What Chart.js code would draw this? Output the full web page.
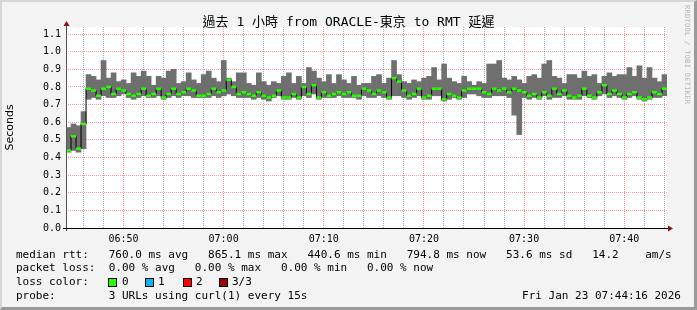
<!DOCTYPE html>
<html>
<head>
<meta charset="utf-8">
<script src="https://cdn.jsdelivr.net/npm/chart.js@4"></script>
<style>
  html, body { margin: 0; padding: 0; background: #f3f3f3; }
  #wrap { position: relative; width: 697px; height: 310px; overflow: hidden; background: #f3f3f3; }
  #wrap canvas { position: absolute; left: 0; top: 0; }
  .frame { position: absolute; left: 0; top: 0; width: 697px; height: 310px; box-sizing: border-box;
           border-top: 2px solid #d6d6d6; border-left: 2px solid #d6d6d6;
           border-right: 3px solid #9a9a9a; border-bottom: 3px solid #9a9a9a; pointer-events: none; }
  .txt { position: absolute; white-space: pre; font-family: "DejaVu Sans Mono", monospace; font-size: 11px;
         line-height: 14px; color: #000; }
  .title { left: 0; width: 697px; top: 13px; text-align: center; font-size: 13px; line-height: 17px;
           font-family: "DejaVu Sans Mono", "Noto Sans CJK TC", monospace; }
  .box { position: absolute; width: 7px; height: 7px; border: 1px solid #000; top: 278px; }
  .mark { position: absolute; right: 6px; top: 5px; writing-mode: vertical-rl; font-family: "DejaVu Sans Mono", monospace;
          font-size: 7px; color: #b5b5b5; letter-spacing: 0.3px; }
</style>
</head>
<body>
<div id="wrap">
  <canvas id="chart" width="697" height="310"></canvas>
  <div class="txt title">過去 1 小時 from ORACLE-東京 to RMT 延遲</div>
  <div class="mark">RRDTOOL / TOBI OETIKER</div>
  <div class="txt" style="left:16px; top:248px">median rtt:   760.0 ms avg   865.1 ms max   440.6 ms min   794.8 ms now   53.6 ms sd   14.2    am/s</div>
  <div class="txt" style="left:16px; top:261px">packet loss:  0.00 % avg   0.00 % max   0.00 % min   0.00 % now</div>
  <div class="txt" style="left:16px; top:275px">loss color:</div>
  <div class="box" style="left:108px; background:#26ff00"></div>
  <div class="txt" style="left:122px; top:275px">0</div>
  <div class="box" style="left:145px; background:#00b8ff"></div>
  <div class="txt" style="left:158px; top:275px">1</div>
  <div class="box" style="left:183px; background:#ff0000"></div>
  <div class="txt" style="left:196px; top:275px">2</div>
  <div class="box" style="left:219px; background:#a00000"></div>
  <div class="txt" style="left:232px; top:275px">3/3</div>
  <div class="txt" style="left:16px; top:289px">probe:        3 URLs using curl(1) every 15s</div>
  <div class="txt" style="right:16px; top:289px">Fri Jan 23 07:44:16 2026</div>
  <div class="frame"></div>
</div>
<script>
// time window, seconds of the day: 06:44:16 .. 07:44:16
const startTime = 6 * 3600 + 44 * 60 + 16;
const endTime = startTime + 3600;
const stepSec = 30;
const majorTickSec = 600;  // labelled every 10 min
const minorTickSec = 120;  // grey grid every 2 min

// median rtt (s)
const median = [
  0.44, 0.52, 0.45, 0.59, 0.79, 0.78, 0.75, 0.79, 0.80, 0.76,
  0.79, 0.78, 0.76, 0.75, 0.76, 0.79, 0.75, 0.76, 0.79, 0.74,
  0.76, 0.79, 0.76, 0.77, 0.79, 0.78, 0.75, 0.75, 0.76, 0.79,
  0.77, 0.78, 0.84, 0.80, 0.76, 0.77, 0.76, 0.75, 0.77, 0.75,
  0.74, 0.75, 0.78, 0.74, 0.74, 0.76, 0.74, 0.80, 0.76, 0.81,
  0.74, 0.77, 0.75, 0.76, 0.77, 0.76, 0.77, 0.75, 0.75, 0.79,
  0.78, 0.76, 0.78, 0.77, 0.74, 0.85, 0.83, 0.78, 0.75, 0.76,
  0.79, 0.74, 0.75, 0.79, 0.79, 0.73, 0.76, 0.75, 0.74, 0.78,
  0.79, 0.79, 0.79, 0.77, 0.76, 0.79, 0.78, 0.79, 0.77, 0.79,
  0.78, 0.77, 0.75, 0.76, 0.74, 0.77, 0.75, 0.79, 0.76, 0.78,
  0.75, 0.74, 0.75, 0.79, 0.75, 0.74, 0.77, 0.81, 0.76, 0.78,
  0.76, 0.74, 0.76, 0.77, 0.74, 0.73, 0.74, 0.77, 0.76, 0.79
];
// lowest ping of each step (bottom of the smoke)
const smokeLow = [
  0.43, 0.44, 0.43, 0.45, 0.73, 0.74, 0.73, 0.75, 0.74, 0.74,
  0.75, 0.76, 0.74, 0.73, 0.74, 0.75, 0.74, 0.74, 0.75, 0.73,
  0.74, 0.75, 0.74, 0.75, 0.75, 0.74, 0.74, 0.74, 0.74, 0.75,
  0.74, 0.75, 0.76, 0.75, 0.74, 0.74, 0.74, 0.73, 0.74, 0.73,
  0.72, 0.74, 0.75, 0.73, 0.73, 0.74, 0.73, 0.75, 0.74, 0.76,
  0.73, 0.74, 0.74, 0.74, 0.75, 0.74, 0.74, 0.74, 0.73, 0.75,
  0.74, 0.74, 0.75, 0.74, 0.73, 0.75, 0.75, 0.74, 0.73, 0.74,
  0.75, 0.73, 0.73, 0.75, 0.75, 0.72, 0.73, 0.74, 0.73, 0.74,
  0.76, 0.76, 0.75, 0.74, 0.74, 0.75, 0.75, 0.75, 0.74, 0.64,
  0.53, 0.74, 0.73, 0.74, 0.73, 0.75, 0.73, 0.74, 0.74, 0.75,
  0.73, 0.73, 0.73, 0.75, 0.74, 0.73, 0.75, 0.76, 0.74, 0.75,
  0.74, 0.73, 0.74, 0.75, 0.73, 0.72, 0.73, 0.74, 0.74, 0.75
];
// highest ping of each step (top of the smoke)
const smokeHigh = [
  0.57, 0.59, 0.58, 0.66, 0.87, 0.86, 0.84, 0.95, 0.85, 0.88,
  0.83, 0.84, 0.82, 0.88, 0.86, 0.89, 0.86, 0.81, 0.86, 0.85,
  0.89, 0.90, 0.82, 0.83, 0.88, 0.84, 0.82, 0.87, 0.89, 0.85,
  0.83, 0.95, 0.85, 0.83, 0.88, 0.88, 0.82, 0.81, 0.88, 0.83,
  0.81, 0.83, 0.82, 0.86, 0.88, 0.82, 0.86, 0.82, 0.91, 0.89,
  0.85, 0.83, 0.87, 0.82, 0.87, 0.84, 0.82, 0.86, 0.81, 0.82,
  0.82, 0.86, 0.87, 0.82, 0.85, 0.95, 0.87, 0.83, 0.82, 0.84,
  0.83, 0.85, 0.86, 0.91, 0.84, 0.93, 0.85, 0.83, 0.82, 0.86,
  0.83, 0.81, 0.83, 0.82, 0.93, 0.93, 0.95, 0.85, 0.84, 0.86,
  0.84, 0.82, 0.86, 0.87, 0.85, 0.93, 0.95, 0.86, 0.85, 0.82,
  0.87, 0.87, 0.85, 0.89, 0.86, 0.87, 0.82, 0.86, 0.88, 0.86,
  0.87, 0.87, 0.91, 0.86, 0.92, 0.85, 0.91, 0.85, 0.83, 0.87
];

const times = median.map((v, i) => startTime + stepSec / 2 + i * stepSec);

const monoFont = { family: 'DejaVu Sans Mono', size: 10 };
const majorGrid = 'rgba(255, 60, 60, 0.55)';
const minorGrid = 'rgba(120, 120, 120, 0.6)';

const hhmm = function (v) {
    const h = Math.floor(v / 3600);
    const m = Math.floor((v % 3600) / 60);
    return String(h).padStart(2, '0') + ':' + String(m).padStart(2, '0');
};

const isMajor = (v) => v % majorTickSec === 0;

// labelled ticks on round clock times, not counted from the window start
const clockTicks = function (scale) {
    const ticks = [];
    for (let v = Math.ceil(scale.min / majorTickSec) * majorTickSec; v <= scale.max; v += majorTickSec) {
        ticks.push({ value: v });
    }
    scale.ticks = ticks;
};

// grey dotted lines every 2 min between the red 10 min lines
const minorGridLines = {
    id: 'minorGridLines',
    beforeDatasetsDraw(chart) {
        const { ctx, chartArea } = chart;
        const xs = chart.scales.x;
        ctx.save();
        ctx.strokeStyle = minorGrid;
        ctx.lineWidth = 1;
        ctx.setLineDash([1, 1]);
        for (let v = Math.ceil(xs.min / minorTickSec) * minorTickSec; v <= xs.max; v += minorTickSec) {
            if (isMajor(v)) continue;
            const px = Math.round(xs.getPixelForValue(v) - 0.5) + 0.5;
            ctx.beginPath();
            ctx.moveTo(px, chartArea.top);
            ctx.lineTo(px, chartArea.bottom);
            ctx.stroke();
        }
        ctx.restore();
    }
};

// axis lines with the little rrdtool arrows
const axisArrows = {
    id: 'axisArrows',
    afterDatasetsDraw(chart) {
        const { ctx, chartArea } = chart;
        const { left, right, top, bottom } = chartArea;
        ctx.save();
        ctx.lineWidth = 1;
        ctx.strokeStyle = '#555555';
        ctx.beginPath();
        ctx.moveTo(left + 0.5, bottom + 3);
        ctx.lineTo(left + 0.5, top - 2);
        ctx.stroke();
        ctx.strokeStyle = '#000000';
        ctx.beginPath();
        ctx.moveTo(left - 3, bottom + 0.5);
        ctx.lineTo(right + 2, bottom + 0.5);
        ctx.stroke();
        ctx.fillStyle = '#8b1010';
        ctx.beginPath();
        ctx.moveTo(left - 2.5, top - 1);
        ctx.lineTo(left + 3.5, top - 1);
        ctx.lineTo(left + 0.5, top - 6);
        ctx.closePath();
        ctx.fill();
        ctx.beginPath();
        ctx.moveTo(right + 1, bottom - 2.5);
        ctx.lineTo(right + 1, bottom + 3.5);
        ctx.lineTo(right + 6, bottom + 0.5);
        ctx.closePath();
        ctx.fill();
        ctx.restore();
    }
};

const plotBg = {
    id: 'plotBg',
    beforeDraw(chart) {
        const { ctx, chartArea } = chart;
        ctx.save();
        ctx.fillStyle = '#ffffff';
        ctx.fillRect(chartArea.left, chartArea.top, chartArea.right - chartArea.left, chartArea.bottom - chartArea.top);
        ctx.restore();
    }
};

const createChart = function () {
    const data = {
        datasets: [
            {
                type: 'bar',
                label: 'smoke',
                data: times.map((t, i) => ({ x: t, y: [smokeLow[i], smokeHigh[i]] })),
                backgroundColor: '#6f6f6f',
                borderWidth: 0,
                barPercentage: 1,
                categoryPercentage: 1,
                grouped: false,
                order: 3,
            },
            {
                type: 'line',
                label: 'median',
                data: times.map((t, i) => ({ x: t, y: median[i] })),
                borderColor: '#000000',
                borderWidth: 1,
                stepped: 'middle',
                pointRadius: 0,
                order: 2,
            },
            {
                type: 'line',
                label: 'loss 0',
                data: times.map((t, i) => ({ x: t, y: median[i] })),
                showLine: false,
                pointStyle: 'line',
                pointRadius: 2.5,
                pointBorderWidth: 2.5,
                pointBorderColor: '#26ff00',
                order: 1,
            },
        ],
    };

    const config = {
        type: 'line',
        data: data,
        options: {
            responsive: false,
            animation: false,
            events: [],
            layout: { padding: { top: 27, right: 30, bottom: 0, left: 0 } },
            plugins: {
                legend: { display: false },
                tooltip: { enabled: false },
                title: { display: false },
            },
            scales: {
                x: {
                    type: 'linear',
                    position: 'bottom',
                    min: startTime,
                    max: endTime,
                    offset: false,
                    afterBuildTicks: clockTicks,
                    ticks: {
                        autoSkip: false,
                        maxRotation: 0,
                        padding: 5,
                        font: monoFont,
                        color: '#000',
                        callback: hhmm,
                    },
                    grid: { color: majorGrid, drawTicks: false, offset: false },
                    border: { display: false, dash: [1, 1] },
                    afterFit(scale) { scale.height = 82; },
                },
                y: {
                    min: 0,
                    max: 1.14,
                    ticks: {
                        stepSize: 0.1,
                        includeBounds: false,
                        padding: 5,
                        font: monoFont,
                        color: '#000',
                        callback: (v) => v.toFixed(1),
                    },
                    grid: { color: majorGrid, drawTicks: false },
                    border: { display: false, dash: [1, 1] },
                    title: {
                        display: true,
                        text: 'Seconds',
                        color: '#000',
                        font: { family: 'DejaVu Sans', size: 11 },
                        padding: { top: 4, bottom: 0 },
                    },
                    afterFit(scale) { scale.width = 66; },
                },
            },
        },
        plugins: [plotBg, minorGridLines, axisArrows],
    };

    const ctx = document.querySelector('#chart');
    new Chart(ctx, config);
};

document.addEventListener('DOMContentLoaded', createChart);
</script>
</body>
</html>
